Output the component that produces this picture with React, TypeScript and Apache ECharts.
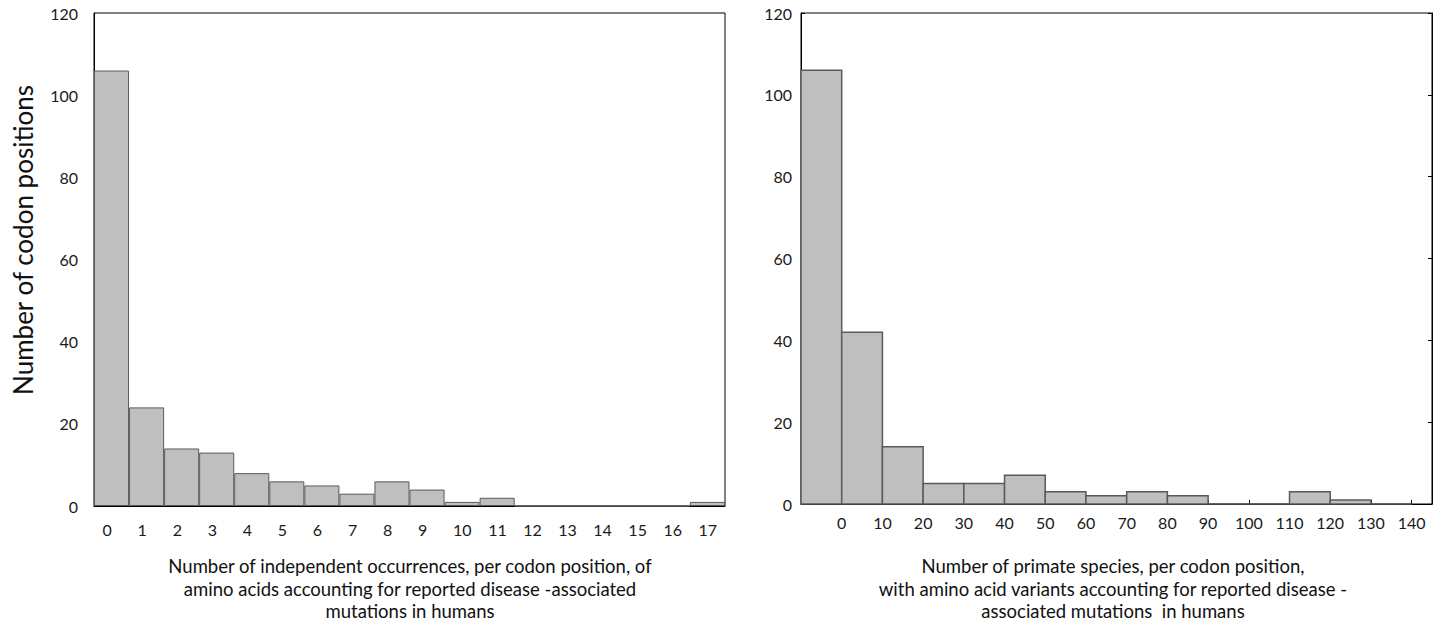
import React, { useEffect, useRef } from "react";
import * as echarts from "echarts";

// Left histogram: independent occurrences per codon position
const leftCategories = ["0","1","2","3","4","5","6","7","8","9","10","11","12","13","14","15","16","17"];
const leftCounts = [106, 24, 14, 13, 8, 6, 5, 3, 6, 4, 1, 2, 0, 0, 0, 0, 0, 1];

// Right histogram: primate species per codon position (bins of 10, first bin unlabeled)
const rightBinStarts = [-10, 0, 10, 20, 30, 40, 50, 60, 70, 80, 90, 100, 110, 120, 130];
const rightCounts = [106, 42, 14, 5, 5, 7, 3, 2, 3, 2, 0, 0, 3, 1, 0];
const rightBinWidth = 10;

const yTitle = "Number of codon positions";
const leftXTitle = [
  "Number of independent occurrences, per codon position, of",
  "amino acids accounting for reported disease -associated",
  "mutations in humans",
];
const rightXTitle = [
  "Number of primate species, per codon position,",
  "with amino acid variants accounting for reported disease -",
  "associated mutations  in humans",
];

const FONT = "Lato, 'Open Sans', sans-serif";
const BAR_FILL = "#bfbfbf";
const BAR_STROKE = "#5a5a5a";

export default function App() {
  const ref = useRef<HTMLDivElement>(null);
  useEffect(() => {
    if (!ref.current) return;
    const chart = echarts.init(ref.current, undefined, { renderer: "svg" });
    const rightData = rightBinStarts.map((s, i) => [s, s + rightBinWidth, rightCounts[i]]);
    const labelStyle = { color: "#1a1a1a", fontFamily: FONT, fontSize: 16 };
    chart.setOption({
      animation: false,
      backgroundColor: "#ffffff",
      textStyle: { fontFamily: FONT },
      grid: [
        { left: 94, top: 13, width: 631, height: 493, show: true, borderColor: "#000", borderWidth: 1, backgroundColor: "transparent" },
        { left: 801, top: 13, width: 631, height: 491, show: true, borderColor: "#000", borderWidth: 1, backgroundColor: "transparent" },
      ],
      xAxis: [
        {
          gridIndex: 0,
          type: "category",
          data: leftCategories,
          boundaryGap: true,
          axisLine: { show: true, lineStyle: { color: "#000", width: 1 } },
          axisTick: { show: false },
          axisLabel: {
            ...labelStyle,
            margin: 15,
            interval: 0,
            formatter: (v: string) => "{a|" + v + "}",
            rich: { a: { ...labelStyle, width: 18, align: "left" } },
          },
          splitLine: { show: false },
        },
        {
          gridIndex: 1,
          type: "value",
          min: -10,
          max: 145,
          interval: 10,
          axisLine: { show: true, onZero: false, lineStyle: { color: "#000", width: 1 } },
          axisTick: { show: true, inside: true, length: 4, lineStyle: { color: "#000" } },
          axisLabel: {
            ...labelStyle,
            margin: 10,
            showMinLabel: true,
            showMaxLabel: true,
            formatter: (v: number) => (v < 0 || v > 140 ? "" : String(v)),
          },
          splitLine: { show: false },
        },
      ],
      yAxis: [
        {
          gridIndex: 0,
          type: "value",
          min: 0,
          max: 120,
          interval: 20,
          axisLine: { show: true, lineStyle: { color: "#000", width: 1 } },
          axisTick: { show: false },
          axisLabel: { ...labelStyle, margin: 16 },
          splitLine: { show: false },
        },
        {
          gridIndex: 1,
          type: "value",
          min: 0,
          max: 120,
          interval: 20,
          axisLine: { show: true, onZero: false, lineStyle: { color: "#000", width: 1 } },
          axisTick: { show: true, inside: true, length: 4, lineStyle: { color: "#000" } },
          axisLabel: { ...labelStyle, margin: 9 },
          splitLine: { show: false },
        },
        {
          gridIndex: 1,
          type: "value",
          position: "right",
          min: 0,
          max: 120,
          interval: 20,
          axisLine: { show: true, onZero: false, lineStyle: { color: "#000", width: 1 } },
          axisTick: { show: true, inside: true, length: 4, lineStyle: { color: "#000" } },
          axisLabel: { show: false },
          splitLine: { show: false },
        },
      ],
      series: [
        {
          type: "bar",
          xAxisIndex: 0,
          yAxisIndex: 0,
          data: leftCounts,
          barCategoryGap: "0%",
          itemStyle: { color: BAR_FILL, borderColor: BAR_STROKE, borderWidth: 1 },
        },
        {
          type: "custom",
          xAxisIndex: 1,
          yAxisIndex: 1,
          data: rightData,
          encode: { x: [0, 1], y: 2 },
          renderItem: (params: any, api: any) => {
            const p0 = api.coord([api.value(0), api.value(2)]);
            const p1 = api.coord([api.value(1), 0]);
            return {
              type: "rect",
              shape: { x: p0[0], y: p0[1], width: p1[0] - p0[0], height: p1[1] - p0[1] },
              style: { fill: BAR_FILL, stroke: BAR_STROKE, lineWidth: 1.5 },
            };
          },
        },
      ],
      graphic: [
        {
          type: "text",
          x: 23,
          y: 240,
          rotation: Math.PI / 2,
          style: {
            text: yTitle,
            fontFamily: FONT,
            fontSize: 26,
            fill: "#111",
            align: "center",
            verticalAlign: "middle",
          },
        },
        {
          type: "text",
          x: 410,
          y: 555,
          style: {
            text: leftXTitle.join("\n"),
            fontFamily: FONT,
            fontSize: 18.5,
            lineHeight: 22.5,
            fill: "#111",
            align: "center",
          },
        },
        {
          type: "text",
          x: 1113,
          y: 555,
          style: {
            text: rightXTitle.join("\n"),
            fontFamily: FONT,
            fontSize: 18.5,
            lineHeight: 22.5,
            fill: "#111",
            align: "center",
          },
        },
      ],
    });
    return () => chart.dispose();
  }, []);
  return (
    <div
      ref={ref}
      style={{ position: "absolute", left: 0, top: 0, width: 1439, height: 624, background: "#fff" }}
    />
  );
}
